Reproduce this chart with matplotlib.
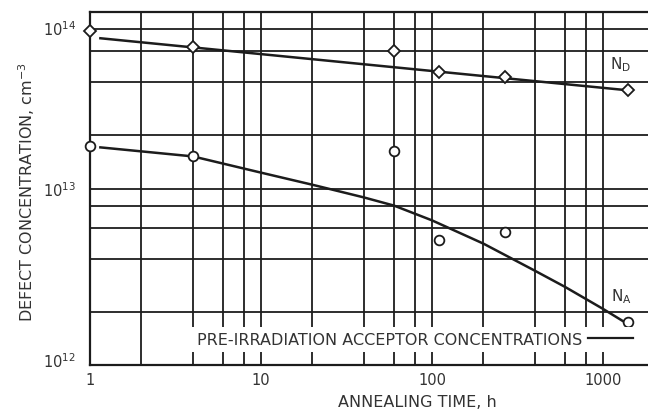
import numpy as np
import matplotlib
matplotlib.use("Agg")
import matplotlib.pyplot as plt
from matplotlib.ticker import FixedLocator, NullFormatter
from matplotlib.transforms import ScaledTranslation
from matplotlib.lines import Line2D

plt.rcParams['font.family'] = ['DejaVu Sans']

# Measured donor / acceptor concentrations after annealing
anneal_hours = [1, 4, 60, 110, 267, 1400]
nd_values = [7.8e13, 6.3e13, 6.0e13, 4.6e13, 4.3e13, 3.6e13]
na_values = [1.75e13, 1.52e13, 1.64e13, 5.1e12, 5.7e12, 1.75e12]

# Smoothed trend curves
nd_fit_hours = [1.15, 1400]
nd_fit_values = [7.1e13, 3.6e13]
na_fit_hours = [1.15, 4, 10, 20, 40, 60, 100, 200, 400, 600, 1000, 1300]
na_fit_values = [1.71e13, 1.52e13, 1.23e13, 1.05e13, 8.9e12, 8.0e12,
                 6.6e12, 4.87e12, 3.42e12, 2.77e12, 2.08e12, 1.78e12]

x_ticks = [1, 10, 100, 1000]
x_tick_labels = ["1", "10", "100", "1000"]
y_ticks = [1e12, 1e13, 1e14]
y_tick_labels = [r"10$^{12}$", r"10$^{13}$", r"10$^{14}$"]

ink = "#1c1c1c"
text_col = "#333333"

fig = plt.figure(figsize=(6.48, 4.14), dpi=100)
ax = fig.add_axes([90 / 648, 48 / 414, 558 / 648, 353 / 414])
ax.set_xscale("log")
ax.set_yscale("log")
ax.set_xlim(1, 1834)
ax.set_ylim(1e12, 1e14)

# graph-paper style grid: 1, 2, 4, 6, 8 per decade
minor_mult = [2, 4, 6, 8]
x_minor = [m * 10 ** d for d in range(0, 4) for m in minor_mult]
y_minor = [m * 10 ** d for d in range(12, 14) for m in minor_mult]
ax.xaxis.set_major_locator(FixedLocator(x_ticks))
ax.xaxis.set_minor_locator(FixedLocator(x_minor))
ax.yaxis.set_major_locator(FixedLocator(y_ticks))
ax.yaxis.set_minor_locator(FixedLocator(y_minor))
ax.xaxis.set_minor_formatter(NullFormatter())
ax.yaxis.set_minor_formatter(NullFormatter())
ax.set_xticklabels(x_tick_labels)
ax.set_yticklabels(y_tick_labels)
ax.grid(True, which="both", color=ink, linewidth=1.3)
ax.set_axisbelow(True)

ax.tick_params(which="both", length=0, labelsize=10.5, colors=text_col)
ax.tick_params(axis="x", pad=5)
ax.tick_params(axis="y", pad=10)

ax.spines["right"].set_visible(False)
for sp in ["left", "bottom", "top"]:
    ax.spines[sp].set_color(ink)
    ax.spines[sp].set_linewidth(1.6)

# nudge the y labels the way they sit on the printed chart
y_shift_px = {0: 6, 1: 0, 2: -15}
for i, lab in enumerate(ax.get_yticklabels()):
    lab.set_transform(lab.get_transform() +
                      ScaledTranslation(0, y_shift_px[i] / 100, fig.dpi_scale_trans))

# trend curves
ax.plot(nd_fit_hours, nd_fit_values, color=ink, lw=1.8, zorder=3)
ax.plot(na_fit_hours, na_fit_values, color=ink, lw=1.8, zorder=3)

# measured points
ax.plot(anneal_hours, nd_values, linestyle="none", marker="D", markersize=6.5,
        mfc="white", mec=ink, mew=1.3, clip_on=False, zorder=4)
ax.plot(anneal_hours, na_values, linestyle="none", marker="o", markersize=7,
        mfc="white", mec=ink, mew=1.3, clip_on=False, zorder=4)

ax.annotate(r"N$_\mathregular{D}$", xy=(anneal_hours[-1], nd_values[-1]),
            xytext=(-5, 19), textcoords="offset points", ha="center", va="center",
            fontsize=11, color=text_col)
ax.annotate(r"N$_\mathregular{A}$", xy=(anneal_hours[-1], na_values[-1]),
            xytext=(-5, 19), textcoords="offset points", ha="center", va="center",
            fontsize=11, color=text_col, zorder=6)

handle = Line2D([], [], color=ink, lw=1.6)
leg = ax.legend([handle], ["PRE-IRRADIATION ACCEPTOR CONCENTRATIONS"],
                loc="center", bbox_to_anchor=(0.582, 0.072),
                markerfirst=False, frameon=True, fancybox=False,
                framealpha=1, facecolor="white", edgecolor="none",
                handlelength=2.8, handletextpad=0.35, borderpad=0.3,
                borderaxespad=0, fontsize=11.5)
leg.set_zorder(5)
for t in leg.get_texts():
    t.set_color(text_col)

fig.text(417 / 648, 1 - 403 / 414, "ANNEALING TIME, h", ha="center", va="center",
         fontsize=11.5, color=text_col)
fig.text(27 / 648, 1 - 192 / 414, r"DEFECT CONCENTRATION, cm$^{-3}$", ha="center",
         va="center", rotation=90, fontsize=11.5, color=text_col)

fig.savefig("out.png", dpi=100)
